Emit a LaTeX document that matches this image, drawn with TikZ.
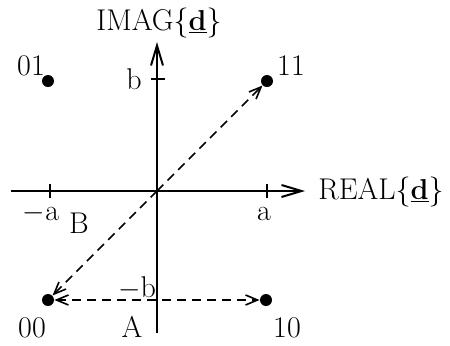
\documentclass[tikz,border=0pt]{standalone}
\usetikzlibrary{arrows.meta}
\begin{document}
\begin{tikzpicture}[x=0.5pt,y=-0.5pt,
  axis/.style={line width=1pt,-{Straight Barb[length=10pt,width=6pt,line width=1pt]}},
  tick/.style={line width=0.8pt},
  dashvec/.style={line width=0.8pt,dash pattern=on 4.5pt off 3pt,-{Straight Barb[length=6pt,width=5pt,line width=0.8pt]}},
  dashboth/.style={line width=0.8pt,dash pattern=on 4.5pt off 3pt,{Straight Barb[length=6pt,width=5pt,line width=0.8pt]}-{Straight Barb[length=6pt,width=5pt,line width=0.8pt]}},
  pt/.style={circle,fill=black,inner sep=0pt,minimum size=6pt},
  lbl/.style={anchor=base,inner sep=0pt,font=\fontsize{15}{17}\selectfont}]
\useasboundingbox (0,0) rectangle (450,345);
% axes
\coordinate (O) at (157,191);
\coordinate (xl) at (11,191);
\coordinate (xr) at (305,191);
\coordinate (yb) at (157,333);
\coordinate (yt) at (157,42);
\draw[axis] (xl) -- (xr);
\draw[axis] (yb) -- (yt);
% ticks
\coordinate (ta1) at (50,184); \coordinate (ta2) at (50,198);
\coordinate (tb1) at (267,184); \coordinate (tb2) at (267,198);
\coordinate (tc1) at (151,79); \coordinate (tc2) at (165,79);
\draw[tick] (ta1) -- (ta2);
\draw[tick] (tb1) -- (tb2);
\draw[tick] (tc1) -- (tc2);
% points
\node[pt] (p01) at (48,81) {};
\node[pt] (p11) at (267,81) {};
\node[pt] (p00) at (48,300) {};
\node[pt] (p10) at (266,300) {};
% vectors
\draw[dashvec] (O) -- (p11);
\draw[dashvec] (O) -- (p00);
\draw[dashboth] (p00) -- (p10);
% labels
\node[lbl] (limag) at (159,30) {IMAG\{$\underline{\mathbf{d}}$\}};
\node[lbl,anchor=base west] (lreal) at (318,199) {REAL\{$\underline{\mathbf{d}}$\}};
\node[lbl] (l01) at (31,75) {01};
\node[lbl] (l11) at (291,75) {11};
\node[lbl] (l00) at (32,337) {00};
\node[lbl] (l10) at (287,337) {10};
\node[lbl] (lA) at (132,337) {A};
\node[lbl] (lb) at (134,89) {b};
\node[lbl] (lma) at (41,220) {$-$a};
\node[lbl] (lB) at (79,233) {B};
\node[lbl] (la) at (264,220) {a};
\node[lbl] (lmb) at (137,297) {$-$b};
\end{tikzpicture}
\end{document}
